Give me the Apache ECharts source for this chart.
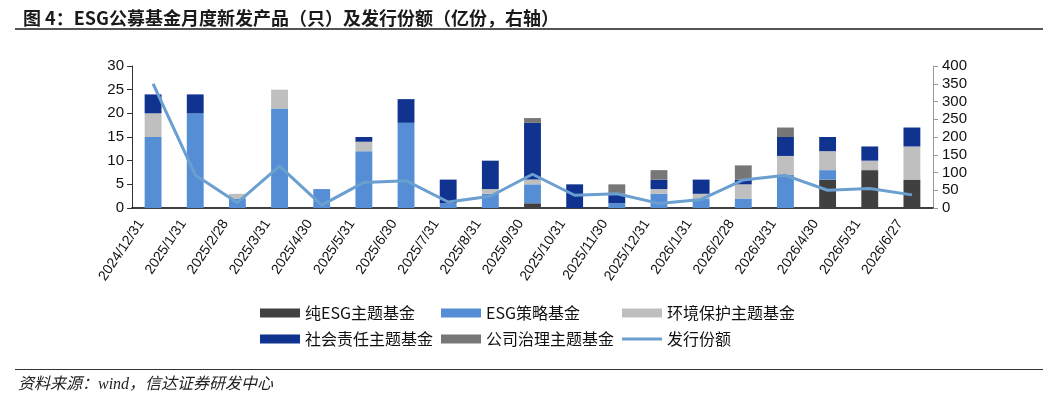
<!DOCTYPE html>
<html><head><meta charset="utf-8">
<script src="https://cdn.jsdelivr.net/npm/echarts@6/dist/echarts.min.js"></script>
<style>html,body{margin:0;padding:0;background:#fff}#c{width:1049px;height:400px}</style>
</head><body><div id="c"></div>
<script>
const categories = ['2024/12/31','2025/1/31','2025/2/28','2025/3/31','2025/4/30','2025/5/31','2025/6/30','2025/7/31','2025/8/31','2025/9/30','2025/10/31','2025/11/30','2025/12/31','2026/1/31','2026/2/28','2026/3/31','2026/4/30','2026/5/31','2026/6/27'];
const pureESG    = [0,0,0,0,0,0,0,0,0,1,0,0,0,0,0,0,6,8,6];
const strategy   = [15,20,2,21,4,12,18,1,3,4,0,1,3,2,2,7,2,0,0];
const envProtect = [5,0,1,4,0,2,0,0,1,1,0,0,1,1,3,4,4,2,7];
const social     = [4,4,0,0,0,1,5,5,6,12,5,2,2,3,1,4,3,3,4];
const governance = [0,0,0,0,0,0,0,0,0,1,0,2,2,0,3,2,0,0,0];
const issuance   = [350,93,15,118,8,72,77,17,33,95,36,40,13,24,79,92,50,55,37];
const leftTicks = [0,5,10,15,20,25,30];
const rightTicks = [0,50,100,150,200,250,300,350,400];

const names = ['纯ESG主题基金','ESG策略基金','环境保护主题基金','社会责任主题基金','公司治理主题基金','发行份额'];
const colors = ['#404040','#558ED5','#BFBFBF','#10338F','#777777','#6A9FD0'];
const barData = [pureESG, strategy, envProtect, social, governance];

const cjk = '"Noto Sans CJK SC", sans-serif';
const chart = echarts.init(document.getElementById('c'));
const series = barData.map((d,i)=>({
  name: names[i], type:'bar', stack:'s', data:d, barWidth:'40%',
  itemStyle:{color:colors[i]}
}));
series.push({name:names[5], type:'line', yAxisIndex:1, data:issuance, symbol:'none',
  lineStyle:{color:colors[5], width:3}, itemStyle:{color:colors[5]}});

const legendPos = [[260,305],[441,305],[622,305],[260,331],[441,331],[622,331]];
const legends = names.map((n,i)=>({
  data:[{name:n, icon:'rect'}],
  left:legendPos[i][0], top:legendPos[i][1], padding:0,
  itemWidth:40, itemHeight: i===5?3:9, itemGap:0,
  textStyle:{fontFamily:cjk, fontSize:16, color:'#111', padding:[0,0,0,0]},
  selectedMode:false
}));

chart.setOption({
  animation:false,
  title:{text:'图 4：ESG公募基金月度新发产品（只）及发行份额（亿份，右轴）', left:18, top:4,
    textStyle:{fontFamily:cjk, fontSize:18, fontWeight:'bold', color:'#1a1a1a'}},
  graphic:[
    {type:'rect', shape:{x:15,y:28,width:1028,height:2}, style:{fill:'#555'}},
    {type:'rect', shape:{x:15,y:369,width:1028,height:1}, style:{fill:'#333'}},
    {type:'text', left:18, top:377, style:{text:'资料来源：wind，信达证券研发中心', fill:'#222',
      font:'italic 16px "Liberation Serif", "Noto Sans CJK SC", serif'}}
  ],
  legend: legends,
  grid:{left:132, right:116, top:66, bottom:192, containLabel:false},
  xAxis:{type:'category', data:categories,
    axisLine:{lineStyle:{color:'#000', width:1.5}},
    axisTick:{inside:true, length:5, lineStyle:{color:'#000'}},
    axisLabel:{rotate:56, interval:0, fontFamily:'"Liberation Sans", Arial, sans-serif', fontSize:14, color:'#111', margin:8,
      verticalAlign:'bottom', padding:[0,11,0,0]}
  },
  yAxis:[
    {type:'value', min:0, max:30, interval:5, splitLine:{show:false},
      axisLine:{show:true, lineStyle:{color:'#333'}},
      axisTick:{show:true, length:5, lineStyle:{color:'#333'}},
      axisLabel:{fontFamily:'"Liberation Sans", Arial, sans-serif', fontSize:15, color:'#111', margin:8}},
    {type:'value', min:0, max:400, interval:50, splitLine:{show:false},
      axisLine:{show:true, lineStyle:{color:'#999'}},
      axisTick:{show:true, length:5, lineStyle:{color:'#999'}},
      axisLabel:{fontFamily:'"Liberation Sans", Arial, sans-serif', fontSize:15, color:'#111', margin:9}}
  ],
  series: series
});
</script></body></html>
